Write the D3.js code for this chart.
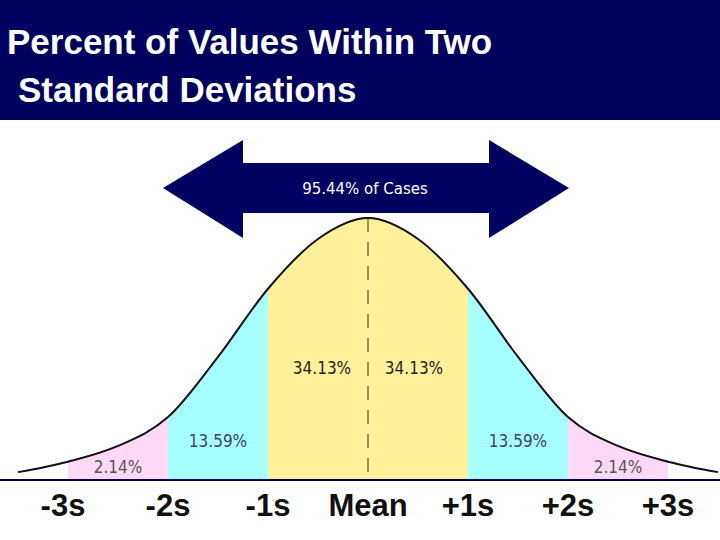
<!DOCTYPE html><html><head><meta charset="utf-8"><script src="https://d3js.org/d3.v7.min.js"></script>
<style>body{margin:0;background:#fff}</style></head><body><svg id="c" width="720" height="540"></svg>
<script>
const zs=[-3.5,-3,-2.5,-2,-1.5,-1,-0.5,0,0.5,1,1.5,2,2.5,3,3.5];
const dens=[0.03,0.07,0.13,0.24,0.47,0.73,0.92,1.0,0.92,0.73,0.47,0.24,0.13,0.07,0.03];
const bands=[[-3,-2,"#ffd9f5"],[-2,-1,"#a6ffff"],[-1,0,"#fff09a"],[0,1,"#fff09a"],[1,2,"#a6ffff"],[2,3,"#ffd9f5"]];
const bandLabels=["2.14%","13.59%","34.13%","34.13%","13.59%","2.14%"];
const tickLabels=["-3s","-2s","-1s","Mean","+1s","+2s","+3s"];
const svg=d3.select("#c");
const x=d3.scaleLinear().domain([-3,3]).range([68,668]);
const y=d3.scaleLinear().domain([0,1]).range([480,218]);
const pts=zs.map((z,i)=>[z,dens[i]]);
const area=d3.area().curve(d3.curveMonotoneX).x(d=>x(d[0])).y0(480).y1(d=>y(d[1]));
const defs=svg.append("defs");
defs.append("clipPath").attr("id","cp").append("path").attr("d",area(pts));
bands.forEach((b,i)=>svg.append("rect").attr("clip-path","url(#cp)").attr("x",x(b[0])).attr("width",x(b[1])-x(b[0])).attr("y",200).attr("height",280).attr("fill",b[2]));
svg.append("path").attr("d",d3.line().curve(d3.curveMonotoneX).x(d=>x(d[0])).y(d=>y(d[1]))(pts)).attr("fill","none").attr("stroke","#111").attr("stroke-width",2);
svg.append("line").attr("x1",x(0)).attr("x2",x(0)).attr("y1",y(1)).attr("y2",480).attr("stroke","#333").attr("stroke-dasharray","14,10");
const bl=[[-2.5,467,"#555"],[-1.5,441,"#445"],[-0.5,368,"#222"],[0.5,368,"#222"],[1.5,441,"#445"],[2.5,467,"#555"]];
bl.forEach((b,i)=>svg.append("text").attr("x",x(b[0])+(i==2?4:i==3?-4:0)).attr("y",b[1]+6).attr("text-anchor","middle").attr("font-family","DejaVu Sans Condensed, DejaVu Sans").attr("font-size",17).attr("fill",b[2]).text(bandLabels[i]));
svg.append("line").attr("x1",0).attr("x2",720).attr("y1",480).attr("y2",480).attr("stroke","#000050").attr("stroke-width",2);
tickLabels.forEach((t,i)=>svg.append("text").attr("x",x(i-3)+(i==0?-5:0)).attr("y",516).attr("text-anchor","middle").attr("font-family","Liberation Sans Narrow, Liberation Sans").attr("font-weight","bold").attr("font-size",31).attr("fill","#111").text(t));
svg.append("rect").attr("width",720).attr("height",120).attr("fill","#00005e");
[["Percent of Values Within Two",7,54],[" Standard Deviations",18,102]].forEach(t=>svg.append("text").attr("x",t[1]).attr("y",t[2]).attr("font-family","Liberation Sans").attr("font-weight","bold").attr("font-size",35).attr("fill","#fff").text(t[0]));
const ax=d3.scaleLinear().domain([-2,2]).range([163,569]);
const L=ax(-2),R=ax(2),sl=243,sr=489;
svg.append("path").attr("d",`M${L},188L${sl},140V163H${sr}V140L${R},188L${sr},238V213H${sl}V238Z`).attr("fill","#000060");
svg.append("text").attr("x",365).attr("y",194).attr("text-anchor","middle").attr("font-family","DejaVu Sans").attr("font-size",15).attr("fill","#fff").text("95.44% of Cases");
</script></body></html>
